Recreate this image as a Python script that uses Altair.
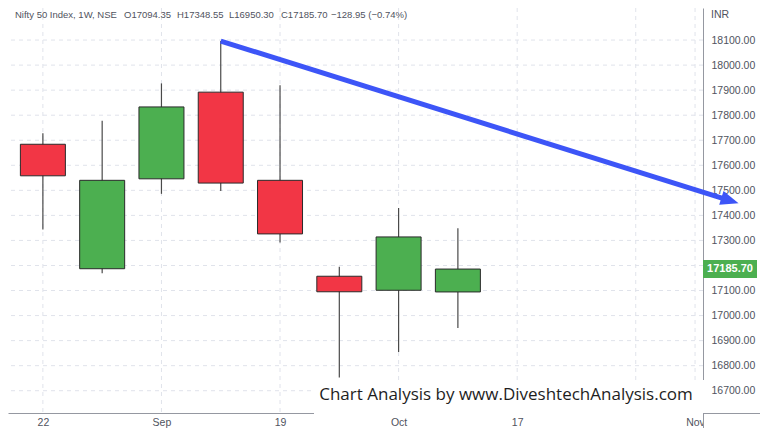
import altair as alt
import pandas as pd

# ---- data (weekly candles, Nifty 50, week index 0 = 22 Aug) ----
weeks  = [0, 1, 2, 3, 4, 5, 6, 7]
opens  = [17684, 17187, 17546, 17892, 17540, 17157, 17101, 17094.35]
highs  = [17728, 17778, 17927, 18096, 17920, 17195, 17429, 17348.55]
lows   = [17344, 17169, 17486, 17497, 17292, 16753, 16855, 16950.30]
closes = [17558, 17540, 17833, 17529, 17326, 17095, 17314, 17185.70]

tick_pos = [0, 2, 4, 6, 8, 11]
tick_labels = ["22", "Sep", "19", "Oct", "17", "Nov"]
grid_pos = [0, 2, 4, 6, 8, 10, 11]
price_ticks = list(range(16700, 18101, 100))
hidden_price_label = 17200   # covered by the last-price tag in the reference
price_labels = [p for p in price_ticks if p != hidden_price_label]

arrow_x = [3, 11.589]
arrow_y = [18096, 17459]

header_parts = ["Nifty 50 Index, 1W, NSE", "O17094.35", "H17348.55", "L16950.30",
                "C17185.70", "\u2212128.95 (\u22120.74%)"]
header_x = [7, 116, 169, 221, 273, 323]

watermark = "Chart Analysis by www.DiveshtechAnalysis.com"

RED = "#F23645"
GREEN = "#4CAF50"
BLUE = "#3D55F7"
GRID = "#e0e3eb"
TXT = "#50535e"
FONT = "Liberation Sans"

W, H = 695, 405
TOTAL_W, TOTAL_H = 752, 420

candles = pd.DataFrame({"week": weeks, "open": opens, "high": highs,
                        "low": lows, "close": closes})
candles["dir"] = ["up" if c >= o else "down" for o, c in zip(opens, closes)]

label_map = "{" + ",".join(f"'{p}':'{l}'" for p, l in zip(tick_pos, tick_labels)) + "}"

xscale = alt.Scale(domain=[-0.504, 11.05], nice=False, zero=False)
yscale = alt.Scale(domain=[16611, 18228], nice=False, zero=False)

xaxis = alt.Axis(values=tick_pos, labelExpr=f"{label_map}[datum.value]", grid=False,
                 ticks=False, domainColor="#9598a1", labelColor=TXT, labelFont=FONT,
                 labelFontSize=10.5, labelPadding=4, title=None, labelFlush=False)
yaxis = alt.Axis(values=price_labels, format=".2f", orient="right", grid=False,
                 ticks=False, domainColor="#9598a1", labelColor=TXT, labelFont=FONT,
                 labelFontSize=10.5, labelPadding=8, title=None, labelAlign="left")

def X(field):
    return alt.X(field, type="quantitative", scale=xscale, axis=xaxis)

def Y(field):
    return alt.Y(field, type="quantitative", scale=yscale, axis=yaxis)

hgrid = alt.Chart(pd.DataFrame({"p": price_ticks})).mark_rule(
    color=GRID, strokeDash=[4, 4], strokeWidth=1).encode(y=Y("p"))
vgrid = alt.Chart(pd.DataFrame({"g": grid_pos})).mark_rule(
    color=GRID, strokeDash=[4, 4], strokeWidth=1).encode(x=X("g"))

base = alt.Chart(candles)
wicks = base.mark_rule(color="#4a4a4a", strokeWidth=1.2).encode(
    x=X("week"), y=Y("low"), y2="high")
bodies = base.mark_bar(size=45, stroke="#2a2a2a", strokeWidth=1).encode(
    x=X("week"), y=Y("open"), y2="close",
    color=alt.Color("dir:N", scale=alt.Scale(domain=["up", "down"], range=[GREEN, RED]),
                    legend=None))

arrow_df = pd.DataFrame({"ax": arrow_x, "ay": arrow_y})
arrow_line = alt.Chart(arrow_df).mark_line(color=BLUE, strokeWidth=5, clip=False).encode(
    x=X("ax"), y=Y("ay"))
arrow_head = alt.Chart(arrow_df.tail(1)).mark_point(
    shape="M -1 -0.8 L 1 0 L -1 0.8 Z", filled=True, size=324, angle=17.25,
    color=BLUE, opacity=1, clip=False).encode(x=X("ax"), y=Y("ay"))

last = candles.tail(1)
tag_box = alt.Chart(last).mark_point(
    shape="M -1.5 -0.5 L 1.5 -0.5 L 1.5 0.5 L -1.5 0.5 Z", filled=True, size=1296,
    color=GREEN, opacity=1, strokeWidth=0, clip=False).encode(
    x=alt.value(722), y=Y("close"))
tag_text = alt.Chart(last).mark_text(
    color="white", font=FONT, fontSize=11, fontWeight="bold", align="center",
    baseline="middle", clip=False).encode(
    x=alt.value(722), y=Y("close"), text=alt.Text("close:Q", format=".2f"))

wm_box = alt.Chart(pd.DataFrame({"a": [0]})).mark_rect(color="white").encode(
    x=alt.value(306), x2=alt.value(696), y=alt.value(372), y2=alt.value(407))
wm_text = alt.Chart(pd.DataFrame({"t": [watermark]})).mark_text(
    font="Open Sans", fontSize=17, color="#1e1e1e", align="center",
    baseline="middle").encode(x=alt.value(498), y=alt.value(387), text="t:N")

corner_box = alt.Chart(pd.DataFrame({"a": [0]})).mark_rect(color="white").encode(
    x=alt.value(696), x2=alt.value(TOTAL_W), y=alt.value(406), y2=alt.value(TOTAL_H))
corner_h = alt.Chart(pd.DataFrame({"a": [0]})).mark_rule(color="#9598a1").encode(
    x=alt.value(695), x2=alt.value(TOTAL_W), y=alt.value(405.5))
corner_v = alt.Chart(pd.DataFrame({"a": [0]})).mark_rule(color="#9598a1").encode(
    x=alt.value(695.5), y=alt.value(405), y2=alt.value(TOTAL_H))

header = alt.Chart(pd.DataFrame({"t": header_parts, "hx": header_x})).mark_text(
    font=FONT, fontSize=9.5, color=TXT, align="left", baseline="middle").encode(
    x=alt.X("hx:Q", scale=None), y=alt.value(7), text="t:N")
inr = alt.Chart(pd.DataFrame({"t": ["INR"]})).mark_text(
    font=FONT, fontSize=10.5, color=TXT, align="left", baseline="middle").encode(
    x=alt.value(703), y=alt.value(7), text="t:N")

chart = alt.layer(
    hgrid, vgrid, wicks, bodies, arrow_line, arrow_head, wm_box, wm_text,
    corner_box, corner_h, corner_v, tag_box, tag_text, header, inr
).properties(
    width=W, height=H,
    autosize=alt.AutoSizeParams(type="none"),
    padding={"left": 0, "top": 0, "right": TOTAL_W - W, "bottom": TOTAL_H - H},
    background="white",
).configure_view(stroke=None)

chart.save("out.html", embed_options={"renderer": "svg", "actions": False})
